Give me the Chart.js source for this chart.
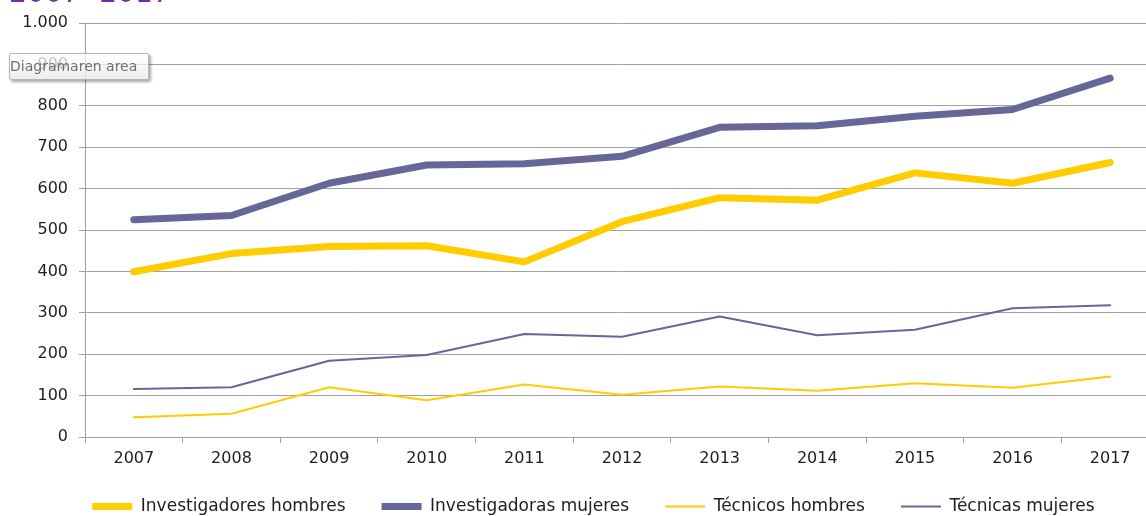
<!DOCTYPE html>
<html>
<head>
<meta charset="utf-8">
<script src="https://cdn.jsdelivr.net/npm/chart.js@4/dist/chart.umd.min.js"></script>
<style>
	body { margin: 0; width: 1146px; height: 516px; overflow: hidden; background: #fff; position: relative; }
	#wrap { position: absolute; left: 0; top: 0; width: 1191px; height: 530px; }
	#title { position: absolute; left: 9px; top: -24px; font: 28px "DejaVu Sans", sans-serif; color: #7030a0; white-space: nowrap; }
	#hint {
		position: absolute; left: 9px; top: 53px; width: 138px; height: 25px;
		border: 1px solid #b4b4b4; border-radius: 2px;
		background: linear-gradient(rgba(255,255,255,0.75), rgba(232,232,236,0.75));
		box-shadow: 2px 2px 3px rgba(0,0,0,0.35);
		font: 14px "DejaVu Sans", sans-serif; color: #6f6f6f; line-height: 25px; padding-left: 0;
		white-space: nowrap; overflow: hidden;
	}
</style>
</head>
<body>
<div id="wrap"><canvas id="myChart"></canvas></div>
<div id="title">2007- 2017</div>
<div id="hint">Diagramaren area</div>
<script>
// Data
const years = ["2007", "2008", "2009", "2010", "2011", "2012", "2013", "2014", "2015", "2016", "2017"];
const investigadoresHombres = [399, 443, 460, 462, 423, 520, 578, 572, 638, 613, 663];
const investigadorasMujeres = [525, 535, 613, 657, 660, 678, 748, 752, 775, 791, 867];
const tecnicosHombres = [48, 56, 120, 89, 127, 102, 122, 112, 130, 119, 146];
const tecnicasMujeres = [116, 120, 184, 198, 249, 242, 291, 246, 259, 311, 318];
const yTicks = [0, 100, 200, 300, 400, 500, 600, 700, 800, 900, 1000];

const yellow = "#ffcc00";
const purple = "#666699";
const gridGray = "#a0a0a0";
const textColor = "#1e1e1e";
const family = "'DejaVu Sans', Verdana, sans-serif";

function series(label, data, color, width) {
	return {
		label,
		data,
		borderColor: color,
		backgroundColor: color,
		borderWidth: width,
		borderCapStyle: "round",
		borderJoinStyle: "round",
		pointRadius: 0,
		tension: 0,
		pointStyle: "line",
	};
}

// nudge the legend a little, like the Excel original
const legendNudge = {
	id: "legendNudge",
	afterLayout(chart) {
		const lg = chart.legend;
		lg.top -= 5;
		lg.bottom -= 5;
		lg.left += 14;
		lg.right += 14;
	},
};

// --------------------------- Chart Object ---------------------------
const ctx = document.getElementById("myChart").getContext("2d");
const chart = new Chart(ctx, {
	type: "line",
	data: {
		labels: years,
		datasets: [
			series("Investigadores hombres", investigadoresHombres, yellow, 7),
			series("Investigadoras mujeres", investigadorasMujeres, purple, 7),
			series("Técnicos hombres", tecnicosHombres, yellow, 2),
			series("Técnicas mujeres", tecnicasMujeres, purple, 2),
		],
	},
	plugins: [legendNudge],
	options: {
		animation: false,
		responsive: true,
		maintainAspectRatio: false,
		layout: { padding: { left: 0, top: 23, right: 32, bottom: 0 } },
		scales: {
			x: {
				type: "category",
				offset: true,
				grid: { display: true, drawOnChartArea: false, drawTicks: true, tickLength: 6, offset: true, color: gridGray },
				border: { color: gridGray, width: 1 },
				ticks: { color: textColor, font: { family, size: 16, lineHeight: 1 }, padding: 8, maxRotation: 0, autoSkip: false },
				afterFit: (scale) => { scale.height = 30; },
			},
			y: {
				min: 0,
				max: 1000,
				afterBuildTicks: (scale) => { scale.ticks = yTicks.map((v) => ({ value: v })); },
				grid: { color: gridGray, tickLength: 6, lineWidth: 1 },
				border: { color: gridGray, width: 1 },
				ticks: {
					color: textColor,
					font: { family, size: 16 },
					padding: 11,
					callback: (v) => String(v).replace(/\B(?=(\d{3})+(?!\d))/g, "."),
				},
				afterFit: (scale) => { scale.width = 85; },
			},
		},
		plugins: {
			legend: {
				position: "bottom",
				onClick: null,
				labels: {
					usePointStyle: true,
					pointStyleWidth: 40,
					boxHeight: 17,
					padding: 36,
					color: textColor,
					font: { family, size: 17 },
				},
			},
			tooltip: { enabled: false },
		},
	},
});
</script>
</body>
</html>
